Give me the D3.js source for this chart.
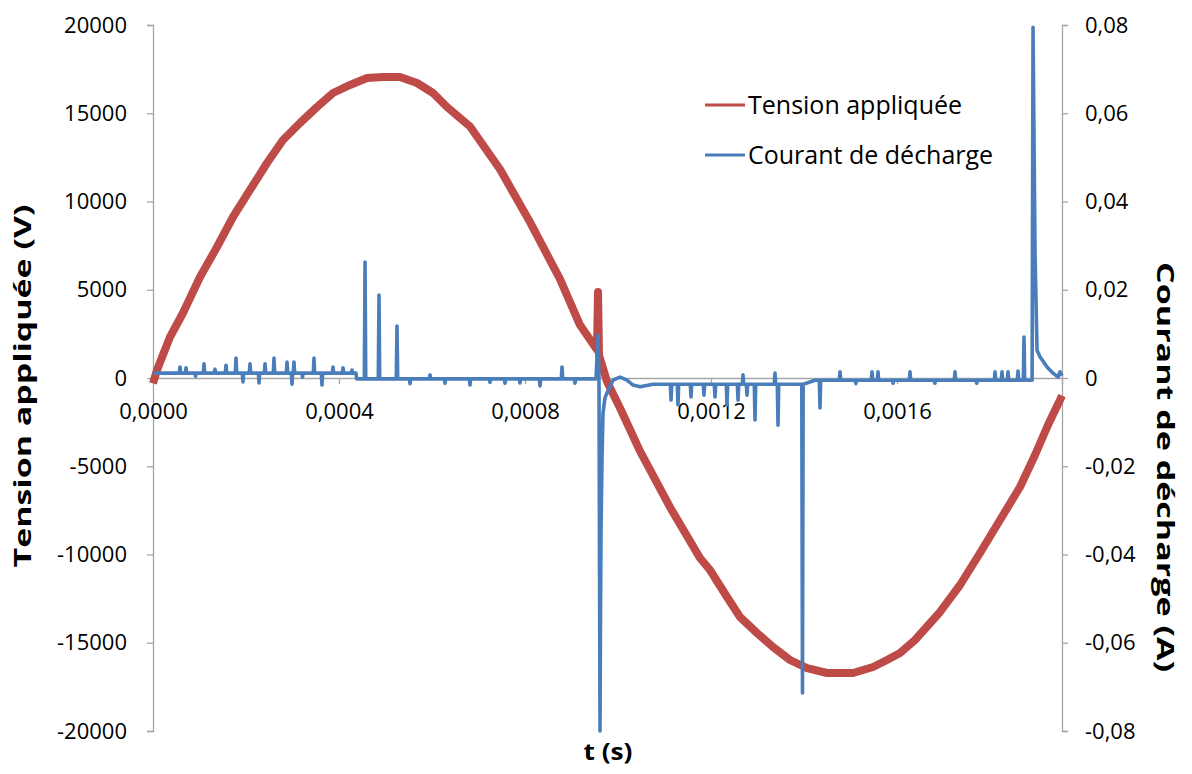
<!DOCTYPE html>
<html><head><meta charset="utf-8">
<script src="https://cdn.jsdelivr.net/npm/d3@7"></script>
<style>body{margin:0;background:#fff} svg{display:block}</style>
</head><body><svg id="c" width="1192" height="774"></svg>
<script>
const timeTicks = [0, 0.0004, 0.0008, 0.0012, 0.0016];
const voltTicks = [-20000, -15000, -10000, -5000, 0, 5000, 10000, 15000, 20000];
const currTicks = [-0.08, -0.06, -0.04, -0.02, 0, 0.02, 0.04, 0.06, 0.08];
const seriesNames = ["Tension appliquée", "Courant de décharge"];
const xTitle = "t (s)", yLeftTitle = "Tension appliquée (V)", yRightTitle = "Courant de décharge (A)";
const tMaxUs = 1954.8;

// [time in µs, voltage V]
const tension = [[0,-300],[8.6,453],[36.6,2323],[64.5,3683],[101.1,5722],[137.6,7422],[172.0,9122],[208.6,10652],[245.2,12181],[279.6,13484],[316.1,14448],[352.7,15354],[387.1,16147],[423.7,16601],[460.2,16997],[494.6,17054],[531.2,17054],[567.7,16714],[602.2,16147],[632.3,15354],[681.7,14250],[746.2,11830],[810.8,8830],[875.3,5600],[918.3,3000],[954.8,1600],[957.0,4870],[959.1,1300],[976.3,-200],[1004.3,-1700],[1047.3,-4140],[1111.8,-7320],[1176.3,-10200],[1197.8,-10878],[1234.4,-12408],[1262.4,-13541],[1298.9,-14448],[1333.3,-15241],[1369.9,-15977],[1406.5,-16431],[1449.5,-16714],[1505.4,-16714],[1548.4,-16374],[1578.5,-15977],[1606.5,-15581],[1638.7,-14844],[1692.5,-13257],[1735.5,-11728],[1778.5,-9915],[1821.5,-8045],[1864.5,-6176],[1896.8,-4363],[1924.7,-2663],[1950.5,-1246],[1954.8,-1000]];

// [time in µs, current A]
const courant = [[0,0.0011],
[56.6,0.0011],[58.1,0.0025],[59.6,0.0011],
[69.5,0.0011],[71.0,0.0023],[72.5,0.0011],
[90.0,0.0011],[91.5,0.0004],[93.0,0.0011],
[108.2,0.0011],[109.7,0.0032],[111.2,0.0011],
[131.8,0.0011],[133.3,0.0020],[134.8,0.0011],
[155.5,0.0011],[157.0,0.0029],[158.5,0.0011],
[177.0,0.0011],[178.5,0.0045],[180.0,0.0011],
[192.0,0.0011],[193.5,-0.0009],[195.0,0.0011],
[207.1,0.0011],[208.6,0.0032],[210.1,0.0011],
[226.5,0.0011],[228.0,-0.0011],[229.5,0.0011],
[239.4,0.0011],[240.9,0.0032],[242.4,0.0011],
[258.7,0.0011],[260.2,0.0045],[261.7,0.0011],
[286.7,0.0011],[288.2,0.0036],[289.7,0.0011],
[297.4,0.0011],[298.9,-0.0014],[300.4,0.0011],
[301.7,0.0011],[303.2,0.0036],[304.7,0.0011],
[320.0,0.0011],[321.5,0.0002],[323.0,0.0011],
[344.7,0.0011],[346.2,0.0045],[347.7,0.0011],
[361.9,0.0011],[363.4,-0.0016],[364.9,0.0011],
[385.6,0.0011],[387.1,0.0025],[388.6,0.0011],
[407.1,0.0011],[408.6,0.0023],[410.1,0.0011],
[426.5,0.0011],[428.0,0.0018],[429.5,0.0011],
[436.6,0.0011],[438.0,-0.0002],
[454.5,-0.0002],[456.0,0.0263],[457.5,-0.0002],
[484.5,-0.0002],[486.0,0.0188],[487.5,-0.0002],
[523.2,-0.0002],[524.7,0.0118],[526.2,-0.0002],
[551.2,-0.0002],[552.7,-0.0013],[554.2,-0.0002],
[594.2,-0.0002],[595.7,0.0007],[597.2,-0.0002],
[626.5,-0.0002],[628.0,-0.0012],[629.5,-0.0002],
[680.2,-0.0002],[681.7,-0.0016],[683.2,-0.0002],
[723.2,-0.0002],[724.7,-0.0010],[726.2,-0.0002],
[755.5,-0.0002],[757.0,-0.0012],[758.5,-0.0002],
[787.7,-0.0002],[789.2,-0.0011],[790.7,-0.0002],
[830.8,-0.0002],[832.3,-0.0018],[833.8,-0.0002],
[878.1,-0.0002],[879.6,0.0025],[881.1,-0.0002],
[906.0,-0.0002],[907.5,-0.0012],[909.0,-0.0002],
[952.7,-0.0002],[957.0,0.0097],[959.1,-0.0002],[961.3,-0.08],[962.3,-0.055],[963.4,-0.035],[965.6,-0.018],[967.7,-0.008],[972.0,-0.0045],[976.3,-0.0034],[989.2,-0.0005],[1004.3,0.0002],[1019.4,-0.0005],[1032.3,-0.0016],[1047.3,-0.0020],[1075.3,-0.0014],
[1112.5,-0.0014],[1114.0,-0.0050],[1115.5,-0.0014],
[1127.5,-0.0014],[1129.0,-0.0061],[1130.5,-0.0014],
[1155.5,-0.0014],[1157.0,-0.0043],[1158.5,-0.0014],
[1183.4,-0.0014],[1184.9,-0.0039],[1186.4,-0.0014],
[1207.1,-0.0014],[1208.6,-0.0043],[1210.1,-0.0014],
[1232.9,-0.0014],[1234.4,-0.0061],[1235.9,-0.0014],
[1256.6,-0.0014],[1258.1,-0.0050],[1259.6,-0.0014],
[1267.3,-0.0014],[1268.8,0.0007],[1270.3,-0.0014],
[1275.9,-0.0014],[1277.4,-0.0039],[1278.9,-0.0014],
[1293.1,-0.0014],[1294.6,-0.0095],[1296.1,-0.0014],
[1336.1,-0.0014],[1337.6,0.0011],[1339.1,-0.0014],
[1342.6,-0.0014],[1344.1,-0.0107],[1345.6,-0.0014],
[1395.2,-0.0014],[1396.7,-0.0714],[1398.2,-0.0014],
[1423.7,-0.0005],
[1432.9,-0.0005],[1434.4,-0.0068],[1435.9,-0.0005],
[1475.9,-0.0005],[1477.4,0.0014],[1478.9,-0.0005],
[1510.0,-0.0005],[1511.5,-0.0013],[1513.0,-0.0005],
[1544.7,-0.0005],[1546.2,0.0014],[1547.7,-0.0005],
[1557.6,-0.0005],[1559.1,0.0014],[1560.6,-0.0005],
[1590.0,-0.0005],[1591.5,-0.0012],[1593.0,-0.0005],
[1626.5,-0.0005],[1628.0,0.0014],[1629.5,-0.0005],
[1680.0,-0.0005],[1681.5,-0.0012],[1683.0,-0.0005],
[1723.2,-0.0005],[1724.7,0.0014],[1726.2,-0.0005],
[1770.0,-0.0005],[1771.5,-0.0012],[1773.0,-0.0005],
[1809.3,-0.0005],[1810.8,0.0014],[1812.3,-0.0005],
[1824.3,-0.0005],[1825.8,0.0014],[1827.3,-0.0005],
[1837.2,-0.0005],[1838.7,0.0014],[1840.2,-0.0005],
[1858.7,-0.0005],[1860.2,0.0016],[1861.7,-0.0005],
[1871.6,-0.0005],[1873.1,0.0093],[1874.6,-0.0005],
[1890.5,-0.0005],[1892.5,0.0795],[1896.8,0.0283],[1901.1,0.0063],[1907.5,0.0048],[1922.6,0.0025],[1935.5,0.0011],[1946.2,0.0002],[1950.5,0.0014],[1954.8,0.0005]];

const RED = "#BE4B48", BLUE = "#4A7EBB", AXIS = "#a6a6a6";
const FONT = "'Open Sans', 'DejaVu Sans', sans-serif";
const svg = d3.select("#c");
const L = 153, R = 1062, T = 25, B = 731;

const x = d3.scaleLinear().domain([0, tMaxUs * 1e-6]).range([L, R]);
const yL = d3.scaleLinear().domain([-20000, 20000]).range([B, T]);
const yR = d3.scaleLinear().domain([-0.08, 0.08]).range([B, T]);

function styleAxis(g, size) {
  g.select(".domain").attr("stroke", AXIS).attr("stroke-width", 1.3);
  g.selectAll(".tick line").attr("stroke", AXIS).attr("stroke-width", 1.3);
  g.selectAll(".tick text").attr("fill", "#000").style("font-family", FONT).style("font-size", size + "px");
}

// left axis
const gL = svg.append("g").attr("transform", `translate(${L},0)`)
  .call(d3.axisLeft(yL).tickValues(voltTicks).tickSize(6).tickPadding(20).tickFormat(d => String(d)));
styleAxis(gL, 22);
// right axis
const fmtR = d => d === 0 ? "0" : d.toFixed(2).replace(".", ",");
const gR = svg.append("g").attr("transform", `translate(${R},0)`)
  .call(d3.axisRight(yR).tickValues(currTicks).tickSize(6).tickPadding(17).tickFormat(fmtR));
styleAxis(gR, 22);
// bottom axis at zero
const gX = svg.append("g").attr("transform", `translate(0,${yL(0)})`)
  .call(d3.axisBottom(x).tickValues(timeTicks).tickSize(6).tickPadding(19).tickFormat(d => d.toFixed(4).replace(".", ",")));
styleAxis(gX, 22);

// series
const lineV = d3.line().x(d => x(d[0] * 1e-6)).y(d => yL(d[1]));
const lineI = d3.line().x(d => x(d[0] * 1e-6)).y(d => yR(d[1]));
svg.append("path").datum(tension).attr("d", lineV).attr("fill", "none")
  .attr("stroke", RED).attr("stroke-width", 8).attr("stroke-linejoin", "round");
svg.append("path").datum(courant).attr("d", lineI).attr("fill", "none")
  .attr("stroke", BLUE).attr("stroke-width", 3.6).attr("stroke-linejoin", "round");

// titles
svg.append("text").text(yLeftTitle)
  .attr("transform", `translate(31,386) rotate(-90)`).attr("text-anchor", "middle")
  .attr("textLength", 363).attr("lengthAdjust", "spacingAndGlyphs")
  .style("font-family", FONT).style("font-weight", "bold").style("font-size", "24px");
svg.append("text").text(yRightTitle)
  .attr("transform", `translate(1157,467) rotate(90)`).attr("text-anchor", "middle")
  .attr("textLength", 410).attr("lengthAdjust", "spacingAndGlyphs")
  .style("font-family", FONT).style("font-weight", "bold").style("font-size", "24px");
svg.append("text").text(xTitle)
  .attr("x", 608).attr("y", 760).attr("text-anchor", "middle")
  .attr("textLength", 49).attr("lengthAdjust", "spacingAndGlyphs")
  .style("font-family", FONT).style("font-weight", "bold").style("font-size", "24px");

// legend
const leg = svg.append("g");
[[seriesNames[0], RED, 105], [seriesNames[1], BLUE, 155]].forEach(([name, col, yy]) => {
  leg.append("line").attr("x1", 705).attr("x2", 745).attr("y1", yy).attr("y2", yy)
    .attr("stroke", col).attr("stroke-width", 3);
  leg.append("text").text(name).attr("x", 748).attr("y", yy).attr("dy", "0.35em")
    .style("font-family", FONT).style("font-size", "25px").attr("fill", "#000");
});
</script></body></html>
